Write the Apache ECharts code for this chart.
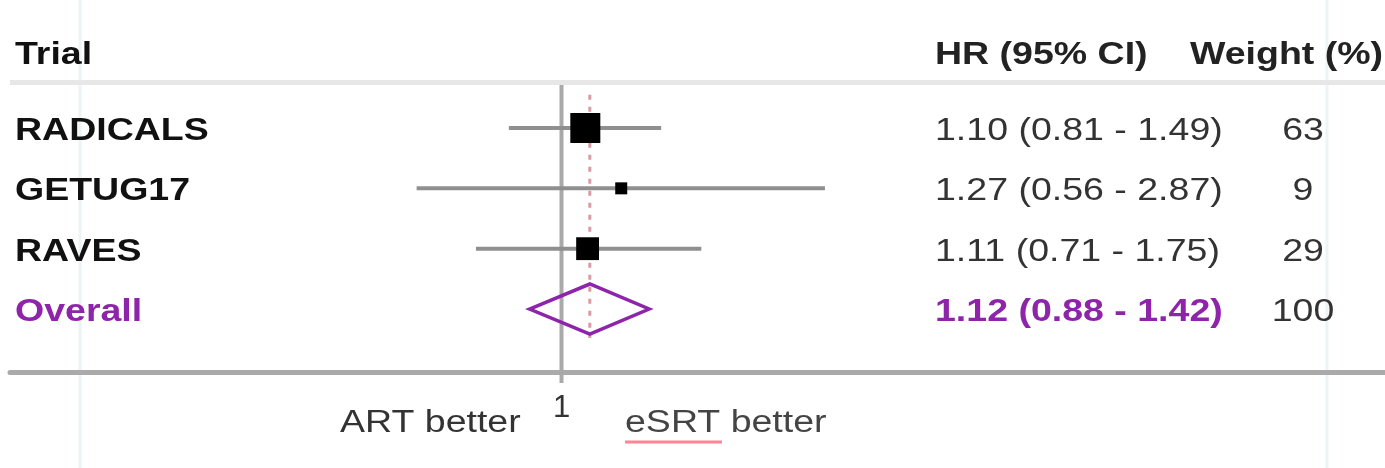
<!DOCTYPE html>
<html>
<head>
<meta charset="utf-8">
<script src="https://cdn.jsdelivr.net/npm/echarts@6/dist/echarts.min.js"></script>
<style>
  html, body { margin: 0; padding: 0; background: #ffffff; }
  #chart { width: 1385px; height: 468px; }
</style>
</head>
<body>
<div id="chart"></div>
<script>
// Trial-level hazard ratios (ART vs eSRT) with 95% confidence intervals
const trials = ['RADICALS', 'GETUG17', 'RAVES'];
const hazardRatios = [1.10, 1.27, 1.11];
const ciLower = [0.81, 0.56, 0.71];
const ciUpper = [1.49, 2.87, 1.75];
const weights = [63, 9, 29];

// Pooled estimate
const overallLabel = 'Overall';
const overallHR = 1.12;
const overallLower = 0.88;
const overallUpper = 1.42;
const overallWeight = 100;

// Column headers, x-axis tick labels and direction captions
const headers = ['Trial', 'HR (95% CI)', 'Weight (%)'];
const tickLabels = [1];
const directionLabels = ['ART better', 'eSRT better'];

const FONT = '"Liberation Sans", Arial, Helvetica, sans-serif';
const FS = 31;
const SX = 1.21;         // horizontal text stretch
const PURPLE = '#8e24aa';
const TEXT_DY = 3.5;     // text sits slightly below the row centre line

const fmt = v => v.toFixed(2);
const ciText = (h, l, u) => `${fmt(h)} (${fmt(l)} - ${fmt(u)})`;

// Box side grows with study weight
const minW = Math.min(...weights), maxW = Math.max(...weights);
const boxSize = w => 12 + 18 * Math.log(w / minW) / Math.log(maxW / minW);

const rowData = trials.map((t, i) => [hazardRatios[i], ciLower[i], ciUpper[i], i, weights[i]]);
const overallRow = trials.length;

function txt(x, y, text, opts) {
  return {
    type: 'text', x: x, y: y, scaleX: SX,
    style: Object.assign({
      text: text, fill: '#222', fontSize: FS, fontFamily: FONT,
      align: 'left', verticalAlign: 'middle'
    }, opts || {})
  };
}

const chart = echarts.init(document.getElementById('chart'), null, { renderer: 'canvas' });

const option = {
  backgroundColor: '#ffffff',
  animation: false,
  grid: { left: 10, right: 0, top: 85, bottom: 96 },
  xAxis: {
    type: 'log',
    logBase: 10,
    min: 0.11,
    max: 27,
    axisLine: { show: true, onZero: false, lineStyle: { color: '#aaaaaa', width: 5 } },
    axisTick: { show: false },
    minorTick: { show: false },
    splitLine: { show: false },
    axisLabel: {
      showMinLabel: false,
      showMaxLabel: false,
      margin: 21,
      color: '#333',
      fontSize: FS,
      fontFamily: FONT,
      formatter: v => (tickLabels.some(t => Math.abs(v - t) < 1e-6) ? String(v) : '')
    }
  },
  yAxis: {
    type: 'value',
    inverse: true,
    min: -0.7127,
    max: 4.044,
    show: false
  },
  graphic: [
    // faint column guides
    { type: 'line', z: 0, shape: { x1: 80, y1: 0, x2: 80, y2: 468 }, style: { stroke: '#eef3f5', lineWidth: 3 } },
    { type: 'line', z: 0, shape: { x1: 1327, y1: 0, x2: 1327, y2: 468 }, style: { stroke: '#eef3f5', lineWidth: 3 } },
    // header separator
    { type: 'rect', z: 1, shape: { x: 10, y: 80, width: 1375, height: 5 }, style: { fill: '#e7e7e7' } },
    txt(15, 55, headers[0], { fontWeight: 'bold', fill: '#111' }),
    txt(935, 55, headers[1], { fontWeight: 'bold', fill: '#222' }),
    txt(1190, 55, headers[2], { fontWeight: 'bold', fill: '#222' }),
    // direction captions under the axis
    txt(340, 423, directionLabels[0], { fill: '#333' }),
    txt(625, 423, directionLabels[1], { fill: '#444' }),
    { type: 'line', z: 5, shape: { x1: 625, y1: 442, x2: 722, y2: 442 }, style: { stroke: '#ff8595', lineWidth: 3 } }
  ],
  series: [
    // line of no effect at HR = 1, running down through the axis as its tick
    {
      type: 'custom', z: 2, silent: true,
      data: [[1, 0]],
      renderItem: (params, api) => {
        const cs = params.coordSys;
        const x = api.coord([api.value(0), 0])[0];
        return {
          type: 'line',
          shape: { x1: x, y1: cs.y, x2: x, y2: cs.y + cs.height + 11 },
          style: { stroke: '#a9a9a9', lineWidth: 4 }
        };
      }
    },
    // confidence interval whiskers
    {
      type: 'custom', z: 3, silent: true,
      data: rowData,
      renderItem: (params, api) => {
        const row = api.value(3);
        const a = api.coord([api.value(1), row]);
        const b = api.coord([api.value(2), row]);
        return {
          type: 'line',
          shape: { x1: a[0], y1: a[1], x2: b[0], y2: b[1] },
          style: { stroke: '#8f8f8f', lineWidth: 4 }
        };
      }
    },
    // dotted line at the pooled estimate
    {
      type: 'custom', z: 4, silent: true,
      data: [[overallHR, overallRow]],
      renderItem: (params, api) => {
        const top = api.coord([api.value(0), -0.55]);
        const bot = api.coord([api.value(0), api.value(1) + 0.48]);
        return {
          type: 'line',
          shape: { x1: top[0], y1: top[1], x2: bot[0], y2: bot[1] },
          style: { stroke: '#d99aa3', lineWidth: 3, lineDash: [5, 7] }
        };
      }
    },
    // weighted point estimates
    {
      type: 'custom', z: 5, silent: true,
      data: rowData,
      renderItem: (params, api) => {
        const c = api.coord([api.value(0), api.value(3)]);
        const s = boxSize(api.value(4));
        return {
          type: 'rect',
          shape: { x: c[0] - s / 2, y: c[1] - s / 2, width: s, height: s },
          style: { fill: '#000000' }
        };
      }
    },
    // pooled estimate diamond
    {
      type: 'custom', z: 6, silent: true,
      data: [[overallHR, overallLower, overallUpper, overallRow]],
      renderItem: (params, api) => {
        const row = api.value(3);
        const m = api.coord([api.value(0), row]);
        const l = api.coord([api.value(1), row]);
        const r = api.coord([api.value(2), row]);
        const h = 25;
        return {
          type: 'polygon',
          shape: { points: [[l[0], m[1]], [m[0], m[1] - h], [r[0], m[1]], [m[0], m[1] + h]] },
          style: { fill: 'rgba(255,255,255,0)', stroke: PURPLE, lineWidth: 3.5 }
        };
      }
    },
    // table text: trial name, HR (95% CI), weight
    {
      type: 'custom', z: 7, silent: true,
      data: trials.map((t, i) => [1, i]).concat([[1, overallRow]]),
      renderItem: (params, api) => {
        const i = params.dataIndex;
        const y = api.coord([1, api.value(1)])[1] + TEXT_DY;
        const isOverall = i === trials.length;
        const name = isOverall ? overallLabel : trials[i];
        const ci = isOverall ? ciText(overallHR, overallLower, overallUpper)
                             : ciText(hazardRatios[i], ciLower[i], ciUpper[i]);
        const w = isOverall ? overallWeight : weights[i];
        return {
          type: 'group',
          children: [
            txt(15, y, name, { fontWeight: 'bold', fill: isOverall ? PURPLE : '#111' }),
            txt(935, y, ci, isOverall ? { fontWeight: 'bold', fill: PURPLE } : { fill: '#333' }),
            txt(1303, y, String(w), { align: 'center', fill: '#333' })
          ]
        };
      }
    }
  ]
};

chart.setOption(option);
</script>
</body>
</html>
